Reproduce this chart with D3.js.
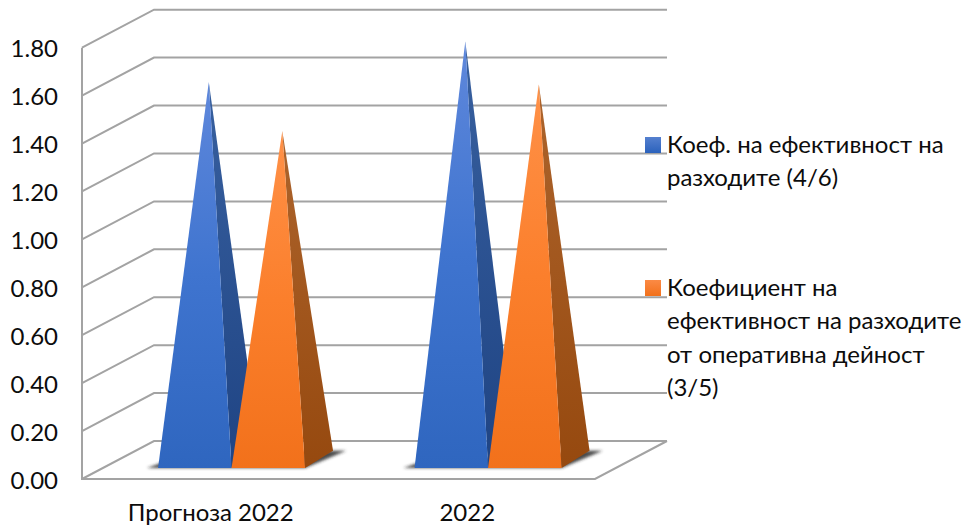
<!DOCTYPE html>
<html lang="bg">
<head>
<meta charset="utf-8">
<title>Коефициенти на ефективност</title>
<script src="https://cdn.jsdelivr.net/npm/d3@7/dist/d3.min.js"></script>
<style>
  html, body { margin: 0; padding: 0; background: #fff; }
  svg { display: block; }
  text { font-family: "Lato", "Open Sans", sans-serif; fill: #0c0c0c; }
</style>
</head>
<body>
<svg id="chart" width="968" height="526"></svg>
<script>
// Chart data
const categories = ["Прогноза 2022", "2022"];
const seriesNames = [
  ["Коеф. на ефективност на", "разходите (4/6)"],
  ["Коефициент на", "ефективност на разходите", "от оперативна дейност", "(3/5)"]
];
const efficiency = [1.575, 1.745];
const operatingEfficiency = [1.37, 1.565];
const tickValues = [0, 0.2, 0.4, 0.6, 0.8, 1.0, 1.2, 1.4, 1.6, 1.8];

// Box projection: the floor runs from the front edge to the back wall
const floor = { left: 82, right: 595, front: 479, dx: 72, dy: -38 };
const wallTop = 47.7;
const svg = d3.select("#chart");

const y = d3.scaleLinear().domain([0, 1.8]).range([floor.front, wallTop]);
const x0 = d3.scaleBand().domain(categories).range([floor.left, floor.right]);
const x1 = d3.scaleBand().domain([0, 1]).range([-73.5, 73.5]);

// Pyramid footprint relative to the front edge of the floor
const base = { frontDx: 21.3, frontY: 468, depthX: 28, depthY: -17.3 };

const palettes = [
  { id: "blue",   front: ["#5f88dc", "#3f74cf", "#2f66bf"], side: ["#38609f", "#1f4484"], swatch: ["#5580cf", "#2b62bc"] },
  { id: "orange", front: ["#ff9148", "#fb7f2c", "#f2711b"], side: ["#ad642c", "#96490f"], swatch: ["#fb8a45", "#f2711b"] }
];

// Vertical gradients for the faces
const defs = svg.append("defs");
function gradient(id, stops) {
  const g = defs.append("linearGradient").attr("id", id)
    .attr("x1", 0).attr("y1", 0).attr("x2", 0).attr("y2", 1);
  stops.forEach((c, i) => g.append("stop")
    .attr("offset", i / (stops.length - 1)).attr("stop-color", c));
}
palettes.forEach(p => {
  gradient(p.id + "-front", p.front);
  gradient(p.id + "-side", p.side);
  gradient(p.id + "-swatch", p.swatch);
});
defs.append("filter").attr("id", "soft")
  .attr("x", "-20%").attr("y", "-40%").attr("width", "140%").attr("height", "180%")
  .append("feGaussianBlur").attr("stdDeviation", 1.6);

// Walls and floor
const grid = svg.append("g").attr("fill", "none")
  .attr("stroke", "#a3a3a3").attr("stroke-width", 2);
grid.selectAll("path.level").data(tickValues).join("path")
  .attr("class", "level")
  .attr("d", v => d3.line()([
    [floor.left, y(v)],
    [floor.left + floor.dx, y(v) + floor.dy],
    [floor.right + floor.dx, y(v) + floor.dy]
  ]));
grid.append("path").attr("d", d3.line()([
  [floor.left, y(1.8)], [floor.left, y(0)], [floor.right, y(0)],
  [floor.right + floor.dx, y(0) + floor.dy]
]));

// Pyramids, one pair per category
const pairs = categories.map((c, i) => ({ c, values: [efficiency[i], operatingEfficiency[i]] }));
const unit = y(0) - y(1);
const groups = svg.selectAll("g.pair").data(pairs).join("g").attr("class", "pair");

// Contact shadow on the floor
groups.append("path")
  .attr("fill", "#2a2a2a").attr("fill-opacity", 0.85).attr("filter", "url(#soft)")
  .attr("d", d => {
    const c = x0(d.c) + x0.bandwidth() / 2 + base.frontDx;
    const l = c + x1(0), r = c + x1(1) + x1.bandwidth();
    return d3.line()([
      [l - 11, base.frontY], [r, base.frontY],
      [r + base.depthX + 13, base.frontY + base.depthY],
      [r + base.depthX, base.frontY + base.depthY],
      [l + 6, base.frontY - 6]
    ]);
  });

groups.each(function(d) {
  const g = d3.select(this);
  d.values.forEach((v, s) => {
    const p = palettes[s];
    const l = x0(d.c) + x0.bandwidth() / 2 + base.frontDx + x1(s);
    const r = l + x1.bandwidth();
    const apex = [
      (l + r) / 2 + base.depthX / 2,
      base.frontY + base.depthY / 2 - v * unit
    ];
    g.append("path").attr("fill", `url(#${p.id}-side)`)
      .attr("d", d3.line()([[r, base.frontY], [r + base.depthX, base.frontY + base.depthY], apex]) + "Z");
    g.append("path").attr("fill", `url(#${p.id}-front)`)
      .attr("d", d3.line()([[l, base.frontY], [r, base.frontY], apex]) + "Z");
  });
});

// Value axis labels
const yAxis = svg.append("g")
  .attr("transform", `translate(${floor.left - 16},1.5)`)
  .call(d3.axisLeft(y).tickValues(tickValues).tickFormat(d3.format(".2f")).tickSize(0).tickPadding(8));
yAxis.select(".domain").remove();
yAxis.attr("font-family", null).attr("font-size", null);
yAxis.selectAll("text").attr("font-size", 24);

// Category labels
svg.selectAll("text.cat").data(categories).join("text")
  .attr("class", "cat")
  .attr("x", c => x0(c) + x0.bandwidth() / 2 + 0.5)
  .attr("y", 521).attr("text-anchor", "middle").attr("font-size", 24)
  .text(c => c);

// Legend
const legendTops = [137, 280];
const lineStep = 33.3;
seriesNames.forEach((lines, s) => {
  svg.append("rect").attr("x", 645).attr("y", legendTops[s])
    .attr("width", 16).attr("height", 16)
    .attr("fill", `url(#${palettes[s].id}-swatch)`);
  const t = svg.append("text").attr("font-size", 24);
  lines.forEach((line, i) => t.append("tspan")
    .attr("x", 667).attr("y", legendTops[s] + 16 + i * lineStep).text(line));
});
</script>
</body>
</html>
